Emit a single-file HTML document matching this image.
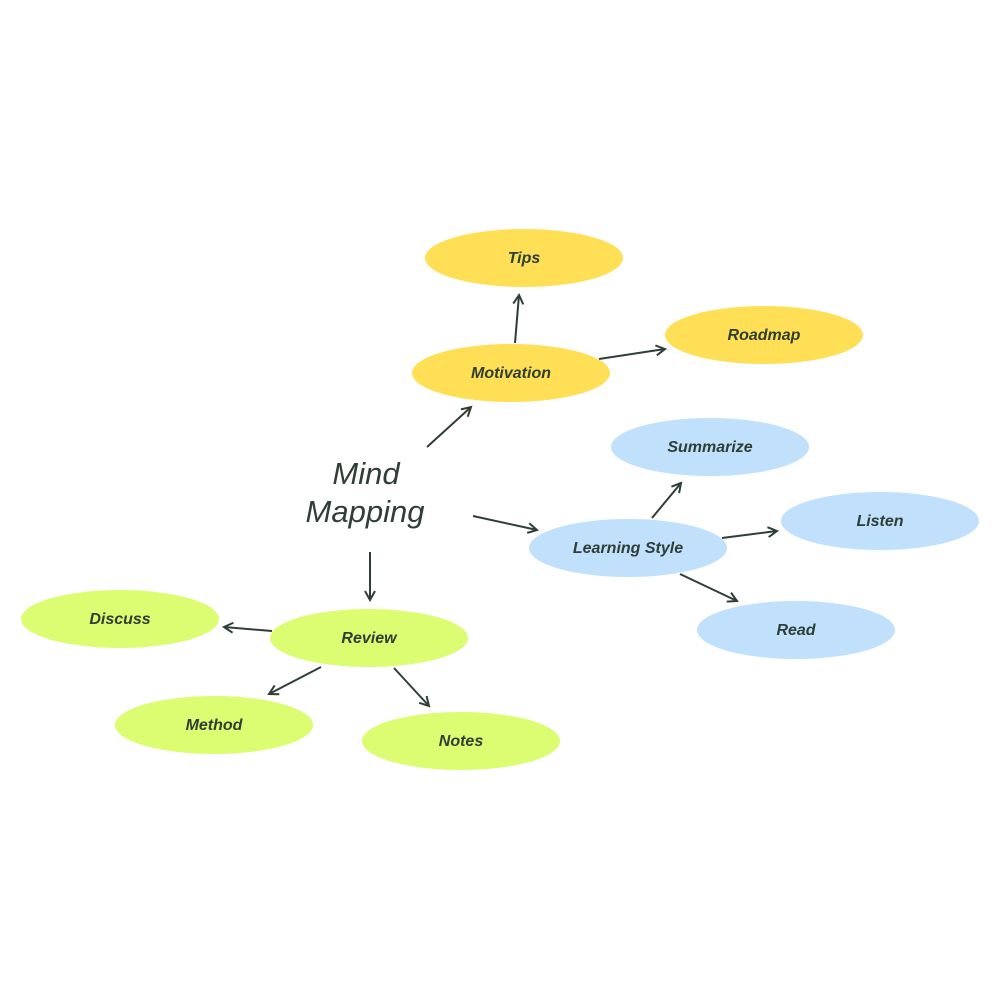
<!DOCTYPE html>
<html><head><meta charset="utf-8"><style>
html,body{margin:0;padding:0;background:#fff;width:1000px;height:1000px;overflow:hidden}
</style></head><body>
<svg width="1000" height="1000" xmlns="http://www.w3.org/2000/svg" font-family="Liberation Sans, sans-serif" font-style="italic">
<defs><marker id="a" markerWidth="12" markerHeight="12" refX="10" refY="6" orient="auto" markerUnits="userSpaceOnUse"><path d="M1,1 L10,6 L1,11" fill="none" stroke="#2f3e36" stroke-width="2"/></marker></defs>
<g stroke="#2f3e36" stroke-width="2" marker-end="url(#a)" fill="none">
<line x1="427" y1="447" x2="471" y2="407"/>
<line x1="515" y1="343" x2="519" y2="295"/>
<line x1="599" y1="359" x2="665" y2="349"/>
<line x1="473" y1="516" x2="537" y2="530"/>
<line x1="652" y1="518" x2="681" y2="483"/>
<line x1="722" y1="538" x2="777" y2="531"/>
<line x1="680" y1="574" x2="737" y2="601"/>
<line x1="370" y1="552" x2="370" y2="600"/>
<line x1="272" y1="631" x2="224" y2="627"/>
<line x1="321" y1="667" x2="269" y2="694"/>
<line x1="394" y1="668" x2="429" y2="706"/>
</g>
<g fill="#ffdf55">
<ellipse cx="524" cy="258" rx="99" ry="29"/>
<ellipse cx="764" cy="335" rx="99" ry="29"/>
<ellipse cx="511" cy="373" rx="99" ry="29"/>
</g>
<g fill="#c0e0fc">
<ellipse cx="710" cy="447" rx="99" ry="29"/>
<ellipse cx="880" cy="521" rx="99" ry="29"/>
<ellipse cx="628" cy="548" rx="99" ry="29"/>
<ellipse cx="796" cy="630" rx="99" ry="29"/>
</g>
<g fill="#dcfc72">
<ellipse cx="120" cy="619" rx="99" ry="29"/>
<ellipse cx="369" cy="638" rx="99" ry="29"/>
<ellipse cx="214" cy="725" rx="99" ry="29"/>
<ellipse cx="461" cy="741" rx="99" ry="29"/>
</g>
<g fill="#2f3e36" font-size="16" text-anchor="middle" font-weight="600">
<text x="524" y="263">Tips</text>
<text x="764" y="340">Roadmap</text>
<text x="511" y="378">Motivation</text>
<text x="710" y="452">Summarize</text>
<text x="880" y="526">Listen</text>
<text x="628" y="553">Learning Style</text>
<text x="796" y="635">Read</text>
<text x="120" y="624">Discuss</text>
<text x="369" y="643">Review</text>
<text x="214" y="730">Method</text>
<text x="461" y="746">Notes</text>
<text x="366" y="484" font-size="31" font-weight="normal">Mind</text>
<text x="365" y="522" font-size="31" font-weight="normal">Mapping</text>
</g>
</svg>
</body></html>
